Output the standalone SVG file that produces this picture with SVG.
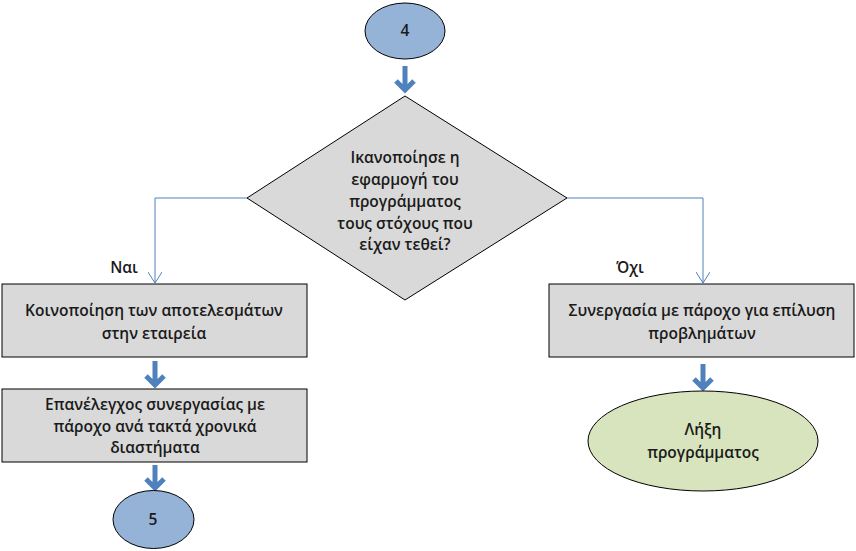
<svg xmlns="http://www.w3.org/2000/svg" width="856" height="551" viewBox="0 0 856 551">
<style>
text{font-family:"Open Sans","Noto Sans",sans-serif;font-size:15.5px;font-weight:600;fill:#1a1a1a;text-anchor:middle}
.b{fill:#d9d9d9;stroke:#000;stroke-width:1}
.c{fill:#95b3d7;stroke:#000;stroke-width:1}
.g{fill:#d7e4bd;stroke:#000;stroke-width:1}
.thin{fill:none;stroke:#4f81bd;stroke-width:1}
.thick{fill:none;stroke:#4f81bd;stroke-width:5}
</style>
<defs>
<marker id="open" markerWidth="12" markerHeight="14" refX="11" refY="7" orient="auto" markerUnits="userSpaceOnUse" viewBox="0 0 12 14">
<polyline points="0,0 11,7 0,14" fill="none" stroke="#4f81bd" stroke-width="1"/>
</marker>
</defs>
<rect width="856" height="551" fill="#fff"/>
<g id="connectors">
<polyline class="thin" points="247,198 155,198 155,283" marker-end="url(#open)"/>
<polyline class="thin" points="567,198 703,198 703,283" marker-end="url(#open)"/>
<path class="thick" d="M405,66V90M396,81L405,90L414,81"/>
<path class="thick" d="M155,361V385M146,376L155,385L164,376"/>
<path class="thick" d="M155,465V488M146,479L155,488L164,479"/>
<path class="thick" d="M703,364V388M694,379L703,388L712,379"/>
<text x="124" y="273">Ναι</text>
<text x="630" y="273">Όχι</text>
</g>
<g id="n4">
<ellipse class="c" cx="405" cy="31" rx="40" ry="28"/>
<text x="405" y="36">4</text>
</g>
<g id="decision">
<polygon class="b" points="405,96 567,198 405,300 247,198"/>
<text x="405" y="163">Ικανοποίησε η</text>
<text x="405" y="185">εφαρμογή του</text>
<text x="405" y="207">προγράμματος</text>
<text x="405" y="229">τους στόχους που</text>
<text x="405" y="250">είχαν τεθεί?</text>
</g>
<g id="notify">
<rect class="b" x="2" y="284" width="305" height="73"/>
<text x="154" y="316">Κοινοποίηση των αποτελεσμάτων</text>
<text x="154" y="339">στην εταιρεία</text>
</g>
<g id="recheck">
<rect class="b" x="2" y="389" width="305" height="73"/>
<text x="155" y="410">Επανέλεγχος συνεργασίας με</text>
<text x="155" y="432">πάροχο ανά τακτά χρονικά</text>
<text x="155" y="453">διαστήματα</text>
</g>
<g id="n5">
<ellipse class="c" cx="153.5" cy="519.5" rx="40.5" ry="29"/>
<text x="153" y="525">5</text>
</g>
<g id="cooperate">
<rect class="b" x="549" y="284" width="305" height="73"/>
<text x="702" y="316">Συνεργασία με πάροχο για επίλυση</text>
<text x="702" y="339">προβλημάτων</text>
</g>
<g id="end">
<ellipse class="g" cx="703" cy="441" rx="115" ry="50"/>
<text x="703" y="435">Λήξη</text>
<text x="703" y="458">προγράμματος</text>
</g>
</svg>
